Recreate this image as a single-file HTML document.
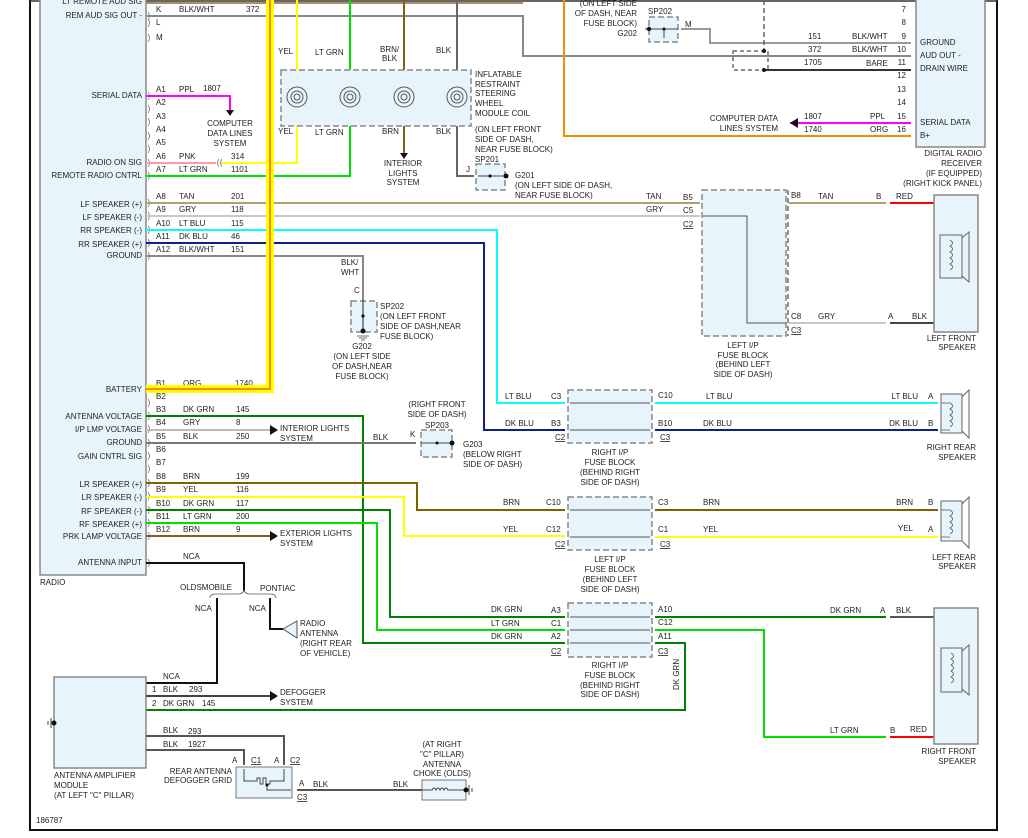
<!DOCTYPE html>
<html><head><meta charset="utf-8"><style>
html,body{margin:0;padding:0;background:#fff;}
svg{display:block}
text{font-family:"Liberation Sans",sans-serif;font-size:8px;fill:#222}
.r{text-anchor:end}.m{text-anchor:middle}
.w{fill:none;stroke-width:2}
.box{fill:#e8f4fc;stroke:#888;stroke-width:1.5}
.dbox{fill:#e8f4fc;stroke:#888;stroke-width:1.5;stroke-dasharray:6,3}
.ar{stroke:#555;stroke-width:1;fill:none}
</style></head><body>
<svg width="1028" height="838" viewBox="0 0 1028 838" xmlns="http://www.w3.org/2000/svg">
<!-- frame -->
<path d="M30 0V830H997V0" fill="none" stroke="#111" stroke-width="2"/>
<line x1="30" y1="1" x2="997" y2="1" stroke="#333" stroke-width="1.5"/>
<!-- radio box -->
<rect x="40" y="-2" width="106" height="577" class="box"/>
<text x="40" y="585">RADIO</text>
<!-- left labels -->
<g class="r">
<text x="142" y="4" class="r">LT REMOTE AUD SIG</text>
<text x="142" y="18" class="r">REM AUD SIG OUT -</text>
<text x="142" y="98" class="r">SERIAL DATA</text>
<text x="142" y="165" class="r">RADIO ON SIG</text>
<text x="142" y="178" class="r">REMOTE RADIO CNTRL</text>
<text x="142" y="207" class="r">LF SPEAKER (+)</text>
<text x="142" y="220" class="r">LF SPEAKER (-)</text>
<text x="142" y="233" class="r">RR SPEAKER (-)</text>
<text x="142" y="247" class="r">RR SPEAKER (+)</text>
<text x="142" y="258" class="r">GROUND</text>
<text x="142" y="392" class="r">BATTERY</text>
<text x="142" y="419" class="r">ANTENNA VOLTAGE</text>
<text x="142" y="432" class="r">I/P LMP VOLTAGE</text>
<text x="142" y="445" class="r">GROUND</text>
<text x="142" y="459" class="r">GAIN CNTRL SIG</text>
<text x="142" y="487" class="r">LR SPEAKER (+)</text>
<text x="142" y="500" class="r">LR SPEAKER (-)</text>
<text x="142" y="514" class="r">RF SPEAKER (-)</text>
<text x="142" y="527" class="r">RF SPEAKER (+)</text>
<text x="142" y="539" class="r">PRK LAMP VOLTAGE</text>
<text x="142" y="565" class="r">ANTENNA INPUT</text>
</g>
<!-- connector brackets -->
<g fill="none" stroke="#777" stroke-width="0.8">
<path d="M148 12q3 4 0 8M148 19q3 4 0 8M148 34q3 4 0 8M148 92q3 4 0 8M148 105q3 4 0 8M148 118q3 4 0 8M148 132q3 4 0 8M148 145q3 4 0 8M148 159q3 4 0 8M148 172q3 4 0 8M148 199q3 4 0 8M148 212q3 4 0 8M148 226q3 4 0 8M148 239q3 4 0 8M148 252q3 4 0 8M148 399q3 4 0 8M148 412q3 4 0 8M148 425q3 4 0 8M148 439q3 4 0 8M148 452q3 4 0 8M148 465q3 4 0 8M148 479q3 4 0 8M148 492q3 4 0 8M148 506q3 4 0 8M148 519q3 4 0 8M148 532q3 4 0 8M148 559q3 4 0 8"/>
</g>
<!-- pin labels -->
<text x="156" y="12">K</text><text x="179" y="12">BLK/WHT</text><text x="246" y="12">372</text>
<text x="156" y="25">L</text><text x="156" y="40">M</text>
<text x="156" y="92">A1</text><text x="179" y="92">PPL</text><text x="203" y="91">1807</text>
<text x="156" y="105">A2</text><text x="156" y="119">A3</text><text x="156" y="132">A4</text><text x="156" y="145">A5</text>
<text x="156" y="159">A6</text><text x="179" y="159">PNK</text><text x="231" y="159">314</text>
<text x="156" y="172">A7</text><text x="179" y="172">LT GRN</text><text x="231" y="172">1101</text>
<text x="156" y="199">A8</text><text x="179" y="199">TAN</text><text x="231" y="199">201</text>
<text x="156" y="212">A9</text><text x="179" y="212">GRY</text><text x="231" y="212">118</text>
<text x="156" y="226">A10</text><text x="179" y="226">LT BLU</text><text x="231" y="226">115</text>
<text x="156" y="239">A11</text><text x="179" y="239">DK BLU</text><text x="231" y="239">46</text>
<text x="156" y="252">A12</text><text x="179" y="252">BLK/WHT</text><text x="231" y="252">151</text>
<text x="156" y="386">B1</text><text x="183" y="386">ORG</text><text x="235" y="386">1740</text>
<text x="156" y="399">B2</text>
<text x="156" y="412">B3</text><text x="183" y="412">DK GRN</text><text x="236" y="412">145</text>
<text x="156" y="425">B4</text><text x="183" y="425">GRY</text><text x="236" y="425">8</text>
<text x="156" y="439">B5</text><text x="183" y="439">BLK</text><text x="236" y="439">250</text>
<text x="156" y="452">B6</text><text x="156" y="465">B7</text>
<text x="156" y="479">B8</text><text x="183" y="479">BRN</text><text x="236" y="479">199</text>
<text x="156" y="492">B9</text><text x="183" y="492">YEL</text><text x="236" y="492">116</text>
<text x="156" y="506">B10</text><text x="183" y="506">DK GRN</text><text x="236" y="506">117</text>
<text x="156" y="519">B11</text><text x="183" y="519">LT GRN</text><text x="236" y="519">200</text>
<text x="156" y="532">B12</text><text x="183" y="532">BRN</text><text x="236" y="532">9</text>
<text x="183" y="559">NCA</text>

<!-- top wires -->
<path d="M146 3H523" stroke="#a89060" class="w"/>
<path d="M146 16H523V56H911" stroke="#888" class="w"/>
<path d="M146 96H230V110" stroke="#ff00ff" class="w"/>
<path d="M226 110h8l-4 6z" fill="#111"/>
<text x="230" y="126" class="m">COMPUTER</text><text x="230" y="136" class="m">DATA LINES</text><text x="230" y="146" class="m">SYSTEM</text>
<path d="M146 163H216" stroke="#ff9aa8" class="w"/>
<path d="M221 163H297V0" stroke="#ffff00" class="w"/>
<path d="M219 159q-3 4 0 8M222 159q-3 4 0 8" stroke="#777" fill="none" stroke-width="0.8"/>
<path d="M146 176H350V0" stroke="#00e000" class="w"/>
<path d="M404 0V155" stroke="#806020" class="w"/>
<path d="M400 153h8l-4 6z" fill="#111"/>
<path d="M457 0V176H474" stroke="#666" class="w"/>
<path d="M146 203H700M703 203H786M789 203H886" stroke="#b0a070" class="w"/>
<path d="M890 203H950V235" stroke="#ff0000" class="w"/>
<path d="M146 216H700" stroke="#c8c8c8" class="w"/>
<path d="M146 230H497V403H565" stroke="#00ffff" class="w"/>
<path d="M146 243H484V430H565" stroke="#10208a" class="w"/>
<path d="M146 256H363V300" stroke="#888" class="w"/>
<!-- battery band -->
<path d="M270 0V389H146" fill="none" stroke="#ffff00" stroke-width="8"/>
<path d="M270 0V389H146" fill="none" stroke="#ff8c00" stroke-width="2"/>
<path d="M564 0V136H911" stroke="#ff8c00" class="w"/>
<!-- airbag coil -->
<rect x="281" y="70" width="190" height="56" class="dbox"/>
<g fill="none" stroke="#555" stroke-width="1">
<circle cx="297" cy="97" r="10"/><circle cx="297" cy="97" r="6"/><circle cx="297" cy="97" r="3"/>
<circle cx="350" cy="97" r="10"/><circle cx="350" cy="97" r="6"/><circle cx="350" cy="97" r="3"/>
<circle cx="404" cy="97" r="10"/><circle cx="404" cy="97" r="6"/><circle cx="404" cy="97" r="3"/>
<circle cx="457" cy="97" r="10"/><circle cx="457" cy="97" r="6"/><circle cx="457" cy="97" r="3"/>
</g>
<text x="278" y="54">YEL</text><text x="315" y="55">LT GRN</text><text x="380" y="52">BRN/</text><text x="382" y="61">BLK</text><text x="436" y="53">BLK</text>
<text x="278" y="134">YEL</text><text x="315" y="135">LT GRN</text><text x="382" y="134">BRN</text><text x="436" y="134">BLK</text>
<text x="475" y="77">INFLATABLE</text><text x="475" y="87">RESTRAINT</text><text x="475" y="96">STEERING</text><text x="475" y="106">WHEEL</text><text x="475" y="116">MODULE COIL</text>
<text x="475" y="132">(ON LEFT FRONT</text><text x="475" y="142">SIDE OF DASH,</text><text x="475" y="152">NEAR FUSE BLOCK)</text><text x="475" y="162">SP201</text>
<text x="403" y="166" class="m">INTERIOR</text><text x="403" y="176" class="m">LIGHTS</text><text x="403" y="185" class="m">SYSTEM</text>
<rect x="476" y="164" width="29" height="26" class="dbox"/>
<path d="M478 176H506" stroke="#444" stroke-width="1"/><circle cx="490" cy="176" r="1.6" fill="#111"/><circle cx="506" cy="176" r="2.5" fill="#111"/>
<text x="466" y="172">J</text>
<text x="515" y="178">G201</text><text x="515" y="188">(ON LEFT SIDE OF DASH,</text><text x="515" y="198">NEAR FUSE BLOCK)</text>
<!-- SP202 G202 lower -->
<rect x="351" y="301" width="26" height="31" class="dbox"/>
<path d="M363 300V332" stroke="#444" stroke-width="1.2"/><circle cx="363" cy="316" r="1.6" fill="#111"/><circle cx="363" cy="331" r="2.5" fill="#111"/>
<path d="M357 336h12M359 338h8M361 340h4" stroke="#444" stroke-width="0.8"/>
<text x="341" y="265">BLK/</text><text x="341" y="275">WHT</text><text x="354" y="293">C</text>
<text x="380" y="309">SP202</text><text x="380" y="319">(ON LEFT FRONT</text><text x="380" y="329">SIDE OF DASH,NEAR</text><text x="380" y="339">FUSE BLOCK)</text>
<text x="362" y="349" class="m">G202</text><text x="362" y="359" class="m">(ON LEFT SIDE</text><text x="362" y="369" class="m">OF DASH,NEAR</text><text x="362" y="379" class="m">FUSE BLOCK)</text>
<!-- top right: SP202 & radio receiver -->
<text x="637" y="6" class="r">(ON LEFT SIDE</text><text x="637" y="16" class="r">OF DASH, NEAR</text><text x="637" y="26" class="r">FUSE BLOCK)</text><text x="637" y="36" class="r">G202</text>
<text x="648" y="14">SP202</text>
<rect x="649" y="17" width="29" height="25" class="dbox"/>
<path d="M645 29H678M664 29V38" stroke="#444" stroke-width="1"/><circle cx="649" cy="29" r="2.2" fill="#111"/><circle cx="664" cy="29" r="1.5" fill="#111"/>
<text x="685" y="27">M</text>
<path d="M681 29H710V43H911" stroke="#999" class="w"/>
<path d="M764 0V51" stroke="#666" stroke-width="1.5" stroke-dasharray="5,3"/>
<rect x="733" y="51" width="35" height="19" fill="none" stroke="#222" stroke-dasharray="4,3"/>
<path d="M764 70H911" stroke="#333" class="w"/>
<circle cx="764" cy="51" r="2" fill="#111"/><circle cx="764" cy="70" r="2" fill="#111"/>
<text x="808" y="39">151</text><text x="852" y="39">BLK/WHT</text>
<text x="808" y="52">372</text><text x="852" y="52">BLK/WHT</text>
<text x="804" y="65">1705</text><text x="866" y="66">BARE</text>
<path d="M790 123H911" stroke="#ff00ff" class="w"/><path d="M790 123l8-5v10z" fill="#111"/>
<text x="778" y="121" class="r">COMPUTER DATA</text><text x="778" y="131" class="r">LINES SYSTEM</text>
<text x="804" y="119">1807</text><text x="870" y="119">PPL</text>
<text x="804" y="132">1740</text><text x="870" y="132">ORG</text>
<rect x="916" y="-2" width="69" height="149" class="box"/>
<g class="r"><text x="906" y="12" class="r">7</text><text x="906" y="25" class="r">8</text><text x="906" y="39" class="r">9</text><text x="906" y="52" class="r">10</text><text x="906" y="65" class="r">11</text><text x="906" y="78" class="r">12</text><text x="906" y="92" class="r">13</text><text x="906" y="105" class="r">14</text><text x="906" y="119" class="r">15</text><text x="906" y="132" class="r">16</text></g>
<text x="920" y="45">GROUND</text><text x="920" y="58">AUD OUT -</text><text x="920" y="71">DRAIN WIRE</text><text x="920" y="125">SERIAL DATA</text><text x="920" y="138">B+</text>
<text x="982" y="156" class="r">DIGITAL RADIO</text><text x="982" y="166" class="r">RECEIVER</text><text x="982" y="176" class="r">(IF EQUIPPED)</text><text x="982" y="186" class="r">(RIGHT KICK PANEL)</text>
<!-- left I/P fuse block (LF) -->
<rect x="702" y="190" width="84" height="146" class="dbox"/>
<line x1="788" y1="190" x2="788" y2="336" stroke="#222" stroke-dasharray="5,3"/>
<path d="M703 216H747V323H786" class="ar"/>
<text x="646" y="199">TAN</text><text x="646" y="212">GRY</text>
<text x="683" y="200">B5</text><text x="683" y="213">C5</text><text x="683" y="227" text-decoration="underline">C2</text>
<text x="791" y="198">B8</text><text x="818" y="199">TAN</text><text x="876" y="199">B</text><text x="896" y="199">RED</text>
<text x="791" y="319">C8</text><text x="791" y="333" text-decoration="underline">C3</text>
<text x="818" y="319">GRY</text><text x="888" y="319">A</text><text x="912" y="319">BLK</text>
<path d="M789 323H886" stroke="#c8c8c8" class="w"/>
<path d="M890 323H950V278" stroke="#444" class="w"/>
<text x="743" y="348" class="m">LEFT I/P</text><text x="743" y="358" class="m">FUSE BLOCK</text><text x="743" y="367" class="m">(BEHIND LEFT</text><text x="743" y="377" class="m">SIDE OF DASH)</text>
<rect x="934" y="195" width="44" height="137" class="box"/>
<rect x="940" y="235" width="22" height="43" fill="#e8f4fc" stroke="#666"/>
<path d="M962 238L969 232V282L962 276" fill="none" stroke="#666"/>
<path d="M950 240q5 3 0 6q5 3 0 6q5 3 0 6q5 3 0 6q5 3 0 6" fill="none" stroke="#555" stroke-width="0.8"/>
<text x="976" y="341" class="r">LEFT FRONT</text><text x="976" y="350" class="r">SPEAKER</text>
<!-- B row wires -->
<path d="M146 416H363V643H565" stroke="#008000" class="w"/>
<path d="M146 430H270" stroke="#bbb" class="w"/><path d="M270 425l8 5-8 5z" fill="#111"/>
<text x="280" y="431">INTERIOR LIGHTS</text><text x="280" y="441">SYSTEM</text>
<path d="M146 443H416" stroke="#777" class="w"/>
<text x="373" y="440">BLK</text><text x="410" y="437">K</text>
<text x="437" y="407" class="m">(RIGHT FRONT</text><text x="437" y="417" class="m">SIDE OF DASH)</text><text x="437" y="428" class="m">SP203</text>
<rect x="421" y="430" width="31" height="27" class="dbox"/>
<path d="M421 443H452" stroke="#444"/><circle cx="437" cy="443" r="1.5" fill="#111"/><circle cx="452" cy="443" r="2.5" fill="#111"/>
<text x="463" y="447">G203</text><text x="463" y="457">(BELOW RIGHT</text><text x="463" y="467">SIDE OF DASH)</text>
<path d="M146 483H417V510H565" stroke="#806000" class="w"/>
<path d="M146 497H404V536H565" stroke="#ffff00" class="w"/>
<path d="M146 510H390V617H565" stroke="#008000" class="w"/>
<path d="M146 523H377V630H565" stroke="#00e000" class="w"/>
<path d="M146 536H270" stroke="#806020" class="w"/><path d="M270 531l8 5-8 5z" fill="#111"/>
<text x="280" y="536">EXTERIOR LIGHTS</text><text x="280" y="546">SYSTEM</text>
<!-- right I/P fuse block 1 -->
<rect x="568" y="390" width="84" height="53" class="dbox"/>
<path d="M570 403H650M570 430H650" class="ar"/>
<text x="505" y="399">LT BLU</text><text x="505" y="426">DK BLU</text>
<text x="551" y="399">C3</text><text x="551" y="426">B3</text><text x="555" y="440" text-decoration="underline">C2</text>
<text x="658" y="398">C10</text><text x="658" y="426">B10</text><text x="660" y="440" text-decoration="underline">C3</text>
<path d="M655 403H938" stroke="#00ffff" class="w"/><path d="M655 430H938" stroke="#10208a" class="w"/>
<text x="706" y="399">LT BLU</text><text x="703" y="426">DK BLU</text>
<text x="918" y="399" class="r">LT BLU</text><text x="918" y="426" class="r">DK BLU</text>
<text x="928" y="399">A</text><text x="928" y="426">B</text>
<text x="610" y="455" class="m">RIGHT I/P</text><text x="610" y="465" class="m">FUSE BLOCK</text><text x="610" y="475" class="m">(BEHIND RIGHT</text><text x="610" y="485" class="m">SIDE OF DASH)</text>
<rect x="941" y="394" width="21" height="39" fill="#e8f4fc" stroke="#666"/>
<path d="M962 397L969 390V438L962 431" fill="none" stroke="#666"/>
<path d="M941 403H950M941 430H950M950 403q5 3 0 6q5 3 0 6q5 3 0 6q5 3 0 6" fill="none" stroke="#555" stroke-width="0.8"/>
<text x="976" y="450" class="r">RIGHT REAR</text><text x="976" y="460" class="r">SPEAKER</text>
<!-- left I/P fuse block 2 -->
<rect x="568" y="497" width="84" height="53" class="dbox"/>
<path d="M570 510H650M570 537H650" class="ar"/>
<text x="503" y="505">BRN</text><text x="503" y="532">YEL</text>
<text x="546" y="505">C10</text><text x="546" y="532">C12</text><text x="555" y="547" text-decoration="underline">C2</text>
<text x="658" y="505">C3</text><text x="658" y="532">C1</text><text x="660" y="547" text-decoration="underline">C3</text>
<path d="M655 510H938" stroke="#806000" class="w"/><path d="M655 537H938" stroke="#ffff00" class="w"/>
<text x="703" y="505">BRN</text><text x="703" y="532">YEL</text>
<text x="913" y="505" class="r">BRN</text><text x="913" y="531" class="r">YEL</text>
<text x="928" y="505">B</text><text x="928" y="532">A</text>
<text x="610" y="562" class="m">LEFT I/P</text><text x="610" y="572" class="m">FUSE BLOCK</text><text x="610" y="582" class="m">(BEHIND LEFT</text><text x="610" y="592" class="m">SIDE OF DASH)</text>
<rect x="941" y="501" width="21" height="40" fill="#e8f4fc" stroke="#666"/>
<path d="M962 504L969 497V548L962 541" fill="none" stroke="#666"/>
<path d="M941 510H950M941 537H950M950 510q5 3 0 6q5 3 0 6q5 3 0 6q5 3 0 6" fill="none" stroke="#555" stroke-width="0.8"/>
<text x="976" y="560" class="r">LEFT REAR</text><text x="976" y="569" class="r">SPEAKER</text>
<!-- right I/P fuse block 3 -->
<rect x="568" y="603" width="84" height="54" class="dbox"/>
<path d="M570 617H650M570 630H650M570 643H650" class="ar"/>
<text x="491" y="612">DK GRN</text><text x="491" y="626">LT GRN</text><text x="491" y="639">DK GRN</text>
<text x="551" y="613">A3</text><text x="551" y="626">C1</text><text x="551" y="639">A2</text><text x="551" y="654" text-decoration="underline">C2</text>
<text x="658" y="612">A10</text><text x="658" y="625">C12</text><text x="658" y="639">A11</text><text x="658" y="654" text-decoration="underline">C3</text>
<path d="M655 617H886" stroke="#008000" class="w"/>
<path d="M890 617H951V648" stroke="#555" class="w"/>
<path d="M655 630H764V737H886" stroke="#00e000" class="w"/>
<path d="M890 737H951V692" stroke="#ff0000" class="w"/>
<path d="M655 643H685V710H146" stroke="#008000" class="w"/>
<text x="0" y="0" transform="translate(679 690) rotate(-90)">DK GRN</text>
<text x="830" y="613">DK GRN</text><text x="880" y="613">A</text><text x="896" y="613">BLK</text>
<text x="830" y="733">LT GRN</text><text x="890" y="733">B</text><text x="910" y="732">RED</text>
<text x="610" y="668" class="m">RIGHT I/P</text><text x="610" y="678" class="m">FUSE BLOCK</text><text x="610" y="688" class="m">(BEHIND RIGHT</text><text x="610" y="697" class="m">SIDE OF DASH)</text>
<rect x="934" y="608" width="44" height="136" class="box"/>
<rect x="941" y="648" width="21" height="44" fill="#e8f4fc" stroke="#666"/>
<path d="M962 651L969 645V695L962 689" fill="none" stroke="#666"/>
<path d="M951 653q5 3 0 6q5 3 0 6q5 3 0 6q5 3 0 6q5 3 0 6" fill="none" stroke="#555" stroke-width="0.8"/>
<text x="976" y="754" class="r">RIGHT FRONT</text><text x="976" y="764" class="r">SPEAKER</text>
<!-- antenna -->
<path d="M146 563H244V591" stroke="#111" class="w"/>
<path d="M210 598q0-4 6-4H238q5 0 6-4q1 4 6 4H270q6 0 6 4" fill="none" stroke="#555" stroke-width="0.8"/>
<text x="180" y="590">OLDSMOBILE</text><text x="260" y="591">PONTIAC</text>
<path d="M217 598V683H146" stroke="#111" class="w"/>
<path d="M270 598V629H283" stroke="#111" class="w"/>
<path d="M283 629L297 621V638Z" fill="#e8f4fc" stroke="#555"/>
<text x="195" y="611">NCA</text><text x="249" y="611">NCA</text><text x="163" y="679">NCA</text>
<text x="300" y="626">RADIO</text><text x="300" y="636">ANTENNA</text><text x="300" y="646">(RIGHT REAR</text><text x="300" y="656">OF VEHICLE)</text>
<rect x="54" y="677" width="92" height="91" class="box"/>
<circle cx="54" cy="723" r="2.5" fill="#111"/><path d="M51 718v10M48 721v4" stroke="#444"/>
<text x="152" y="692">1</text><text x="163" y="692">BLK</text><text x="189" y="692">293</text>
<text x="152" y="706">2</text><text x="163" y="706">DK GRN</text><text x="202" y="706">145</text>
<path d="M146 696H270" stroke="#444" class="w"/><path d="M270 691l8 5-8 5z" fill="#111"/>
<text x="280" y="695">DEFOGGER</text><text x="280" y="705">SYSTEM</text>
<path d="M146 736H284V765" stroke="#555" class="w"/>
<path d="M146 750H244V765" stroke="#555" class="w"/>
<text x="163" y="733">BLK</text><text x="188" y="734">293</text>
<text x="163" y="747">BLK</text><text x="188" y="747">1927</text>
<rect x="236" y="767" width="56" height="31" fill="#e8f4fc" stroke="#777"/>
<path d="M244 769V781H257V778H260V784H263V778H266V784H270V781H284V769M267 784V790H291" fill="none" stroke="#444"/>
<circle cx="267" cy="785" r="1.5" fill="#111"/>
<text x="232" y="763">A</text><text x="251" y="763" text-decoration="underline">C1</text>
<text x="274" y="763">A</text><text x="290" y="763" text-decoration="underline">C2</text>
<text x="232" y="774" class="r">REAR ANTENNA</text><text x="232" y="783" class="r">DEFOGGER GRID</text>
<text x="299" y="786">A</text><text x="297" y="800" text-decoration="underline">C3</text>
<path d="M297 790H422" stroke="#555" class="w"/>
<text x="313" y="787">BLK</text><text x="393" y="787">BLK</text>
<rect x="422" y="780" width="44" height="20" fill="#e8f4fc" stroke="#777"/>
<path d="M422 790H432q2-4 4 0q2-4 4 0q2-4 4 0q2-4 4 0H466" fill="none" stroke="#444"/>
<circle cx="466" cy="790" r="2.5" fill="#111"/><path d="M469 785v10M472 788v4" stroke="#444"/>
<text x="442" y="747" class="m">(AT RIGHT</text><text x="442" y="757" class="m">"C" PILLAR)</text><text x="442" y="767" class="m">ANTENNA</text><text x="442" y="776" class="m">CHOKE (OLDS)</text>
<text x="54" y="778">ANTENNA AMPLIFIER</text><text x="54" y="788">MODULE</text><text x="54" y="798">(AT LEFT "C" PILLAR)</text>
<text x="36" y="823">186787</text>
</svg>
</body></html>
